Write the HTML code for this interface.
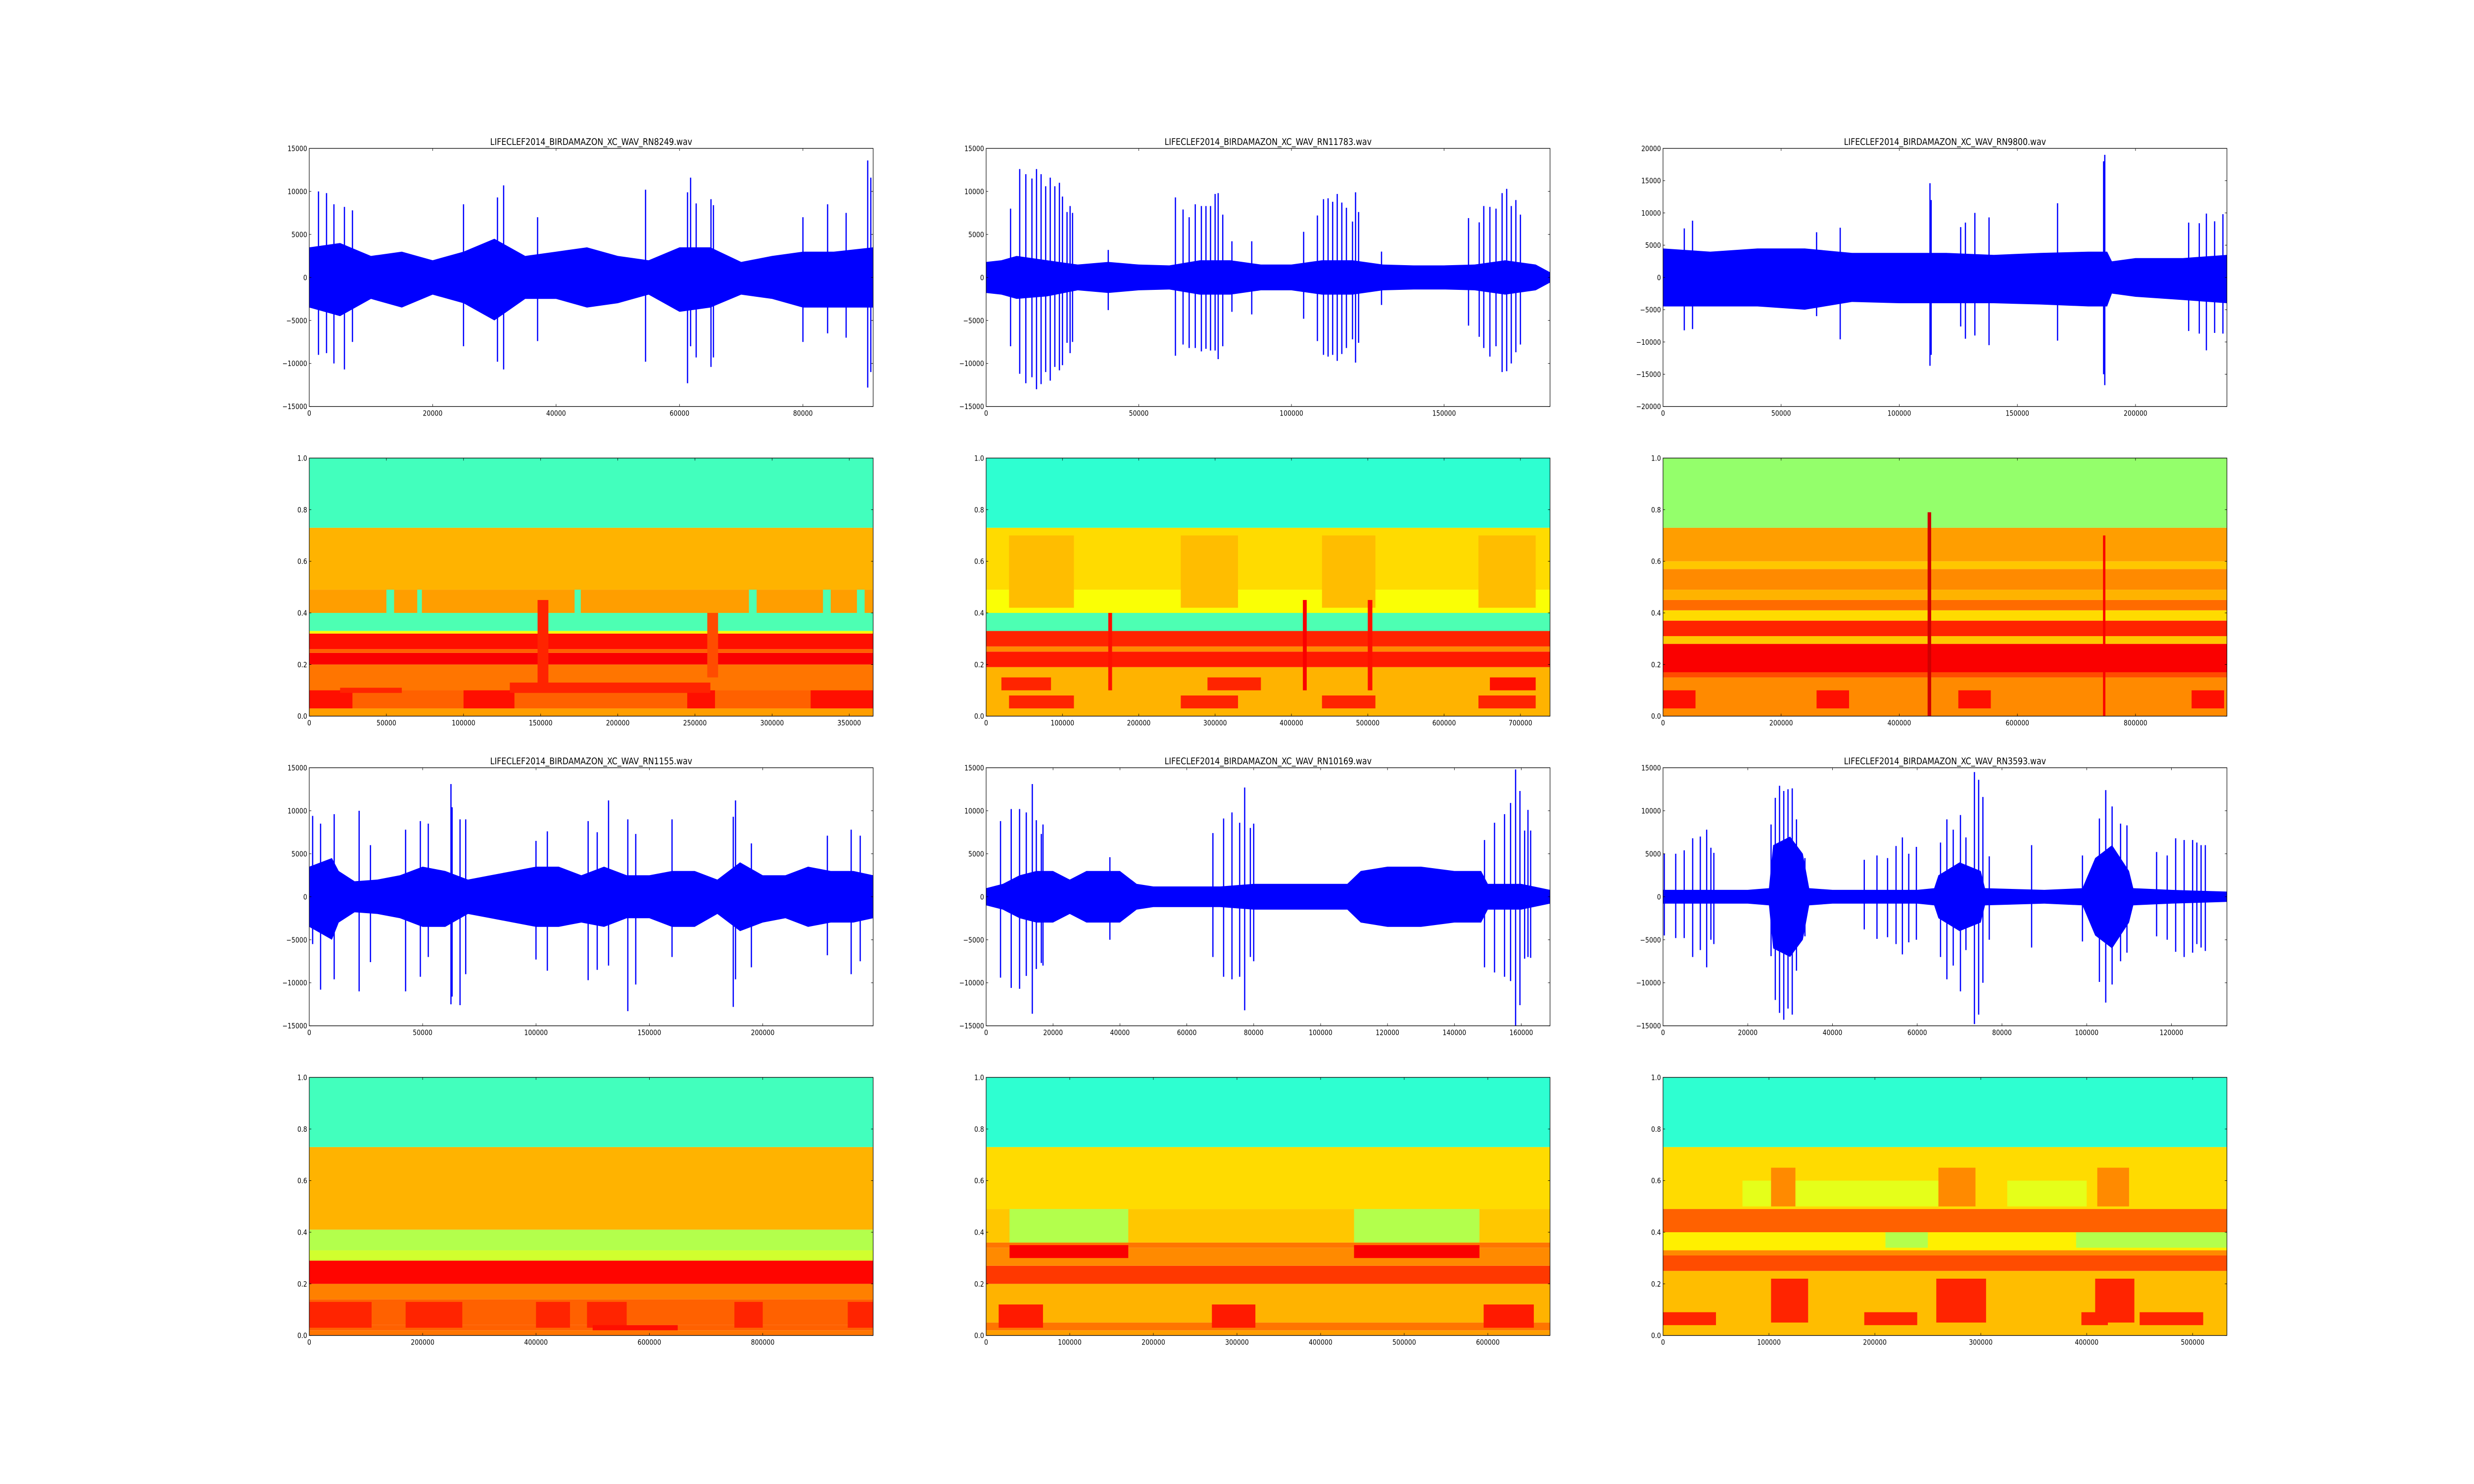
<!DOCTYPE html>
<html><head><meta charset="utf-8"><title>Bird audio waveforms and spectrograms</title>
<style>
html,body{margin:0;padding:0;background:#fff;overflow:hidden;width:100%;height:100%;}
svg{display:block;width:100vw;height:100vh;font-family:"DejaVu Sans","Liberation Sans",sans-serif;}
</style></head>
<body>
<svg id="fig" xmlns="http://www.w3.org/2000/svg" viewBox="0 0 6000 3000" preserveAspectRatio="none">
<rect x="0" y="0" width="6000" height="3000" fill="#ffffff"/>
</svg>
<script>
// ---------- data ----------
const titles = ["LIFECLEF2014_BIRDAMAZON_XC_WAV_RN8249.wav","LIFECLEF2014_BIRDAMAZON_XC_WAV_RN11783.wav","LIFECLEF2014_BIRDAMAZON_XC_WAV_RN9800.wav","LIFECLEF2014_BIRDAMAZON_XC_WAV_RN1155.wav","LIFECLEF2014_BIRDAMAZON_XC_WAV_RN10169.wav","LIFECLEF2014_BIRDAMAZON_XC_WAV_RN3593.wav"];
const waveLengths = [91380,184700,238700,248700,168600,133100];
const waveYMax = [15000,15000,20000,15000,15000,15000];
const waveXStep = [20000,50000,50000,50000,20000,20000];
const specXStep = [50000,100000,200000,200000,100000,100000];
const specYTicks = [0,0.2,0.4,0.6,0.8,1.0];

// waveform envelopes [sample, positive, negative]
const w1Env = [[0,3500,-3500],[5000,4000,-4500],[10000,2500,-2500],[15000,3000,-3500],[20000,2000,-2000],[25000,3000,-3000],[30000,4500,-5000],[35000,2500,-2500],[40000,3000,-2500],[45000,3500,-3500],[50000,2500,-3000],[55000,2000,-2000],[60000,3500,-4000],[65000,3500,-3500],[70000,1800,-2000],[75000,2500,-2500],[80000,3000,-3500],[85000,3000,-3500],[91380,3500,-3500]];
const w2Env = [[0,1800,-1800],[5000,2000,-2000],[10000,2500,-2500],[20000,2000,-2200],[30000,1500,-1500],[40000,1800,-1800],[50000,1500,-1500],[60000,1400,-1400],[70000,2000,-2000],[80000,2000,-2000],[90000,1500,-1500],[100000,1500,-1500],[110000,2000,-2000],[120000,2000,-2000],[130000,1500,-1500],[140000,1400,-1400],[150000,1400,-1400],[160000,1500,-1500],[170000,2000,-2000],[180000,1500,-1500],[184700,600,-600]];
const w3Env = [[0,4500,-4500],[20000,4000,-4500],[40000,4500,-4500],[60000,4500,-5000],[80000,3800,-3800],[100000,3800,-4000],[120000,3800,-4000],[140000,3500,-4000],[160000,3800,-4200],[180000,4000,-4500],[188000,4000,-4500],[190000,2500,-2500],[200000,3000,-3000],[220000,3000,-3500],[238700,3500,-4000]];
const w4Env = [[0,3500,-3500],[10000,4500,-5000],[13000,3000,-3000],[20000,1800,-1800],[30000,2000,-2000],[40000,2500,-2500],[50000,3500,-3500],[60000,3000,-3500],[70000,2000,-2000],[80000,2500,-2500],[90000,3000,-3000],[100000,3500,-3500],[110000,3500,-3500],[120000,2500,-3000],[130000,3500,-3500],[140000,2500,-2500],[150000,2500,-2500],[160000,3000,-3500],[170000,3000,-3500],[180000,2000,-2000],[190000,4000,-4000],[200000,2500,-3000],[210000,2500,-2500],[220000,3500,-3500],[230000,3000,-3000],[240000,3000,-3000],[248700,2500,-2500]];
const w5Env = [[0,1000,-1000],[5000,1500,-1500],[10000,2500,-2500],[15000,3000,-3000],[20000,3000,-3000],[25000,2000,-2000],[30000,3000,-3000],[35000,3000,-3000],[40000,3000,-3000],[45000,1500,-1500],[50000,1200,-1200],[60000,1200,-1200],[70000,1200,-1200],[80000,1500,-1500],[90000,1500,-1500],[100000,1500,-1500],[108000,1500,-1500],[112000,3000,-3000],[120000,3500,-3500],[130000,3500,-3500],[140000,3000,-3000],[148000,3000,-3000],[150000,1500,-1500],[160000,1500,-1500],[168600,800,-800]];
const w6Env = [[0,800,-800],[20000,800,-800],[25000,1000,-1000],[26000,6000,-6000],[30000,7000,-7000],[33000,5000,-5000],[34500,1000,-1000],[40000,800,-800],[60000,800,-800],[64000,1000,-1000],[65000,2500,-2500],[70000,4000,-4000],[75000,3000,-3000],[76000,1000,-1000],[90000,800,-800],[99000,1000,-1000],[102000,4500,-4500],[106000,6000,-6000],[110000,3000,-3000],[111000,1000,-1000],[120000,800,-800],[133100,600,-600]];

// waveform spikes [sample, top, bottom]
const w1Spikes = [[1500,10000,-9000],[2800,9800,-8800],[4000,8500,-10000],[5700,8200,-10700],[7000,7800,-7500],[25000,8500,-8000],[30500,9300,-9800],[31500,10700,-10700],[37000,7000,-7400],[54500,10200,-9800],[61300,9900,-12300],[61800,11600,-8000],[62700,8600,-9300],[65100,9100,-10400],[65500,8400,-9300],[80000,7000,-7500],[84000,8500,-6500],[87000,7500,-7000],[90500,13600,-12800],[91000,11600,-11000]];
const w2Spikes = [[8000,8000,-8000],[11000,12600,-11200],[13000,12000,-12300],[15000,11500,-11600],[16500,12600,-13000],[18000,12000,-12400],[19500,10600,-11000],[21000,11600,-12000],[22500,10600,-10400],[24000,11000,-10800],[25000,9400,-10200],[26500,7600,-7600],[27500,8300,-8800],[28300,7500,-7500],[40000,3200,-3800],[62000,9300,-9100],[64500,7900,-7800],[66500,7000,-8200],[68500,8500,-8200],[70500,8300,-8600],[72000,8300,-8300],[73500,8300,-8500],[75000,9700,-8500],[76000,9800,-9500],[77500,7300,-8000],[80500,4200,-4000],[87000,4200,-4300],[104000,5300,-4800],[108500,7200,-7400],[110500,9100,-9000],[112000,9200,-9200],[113500,8800,-9000],[115000,9700,-9700],[116500,8700,-8900],[118000,8100,-8200],[120000,6500,-7200],[121000,9900,-9900],[122000,7600,-7600],[129500,3000,-3200],[158000,6900,-5600],[161500,6400,-6900],[163000,8300,-8200],[165000,8200,-9200],[167000,8000,-8000],[169000,9800,-11000],[170500,10300,-10900],[172000,8300,-10000],[173500,9000,-8700],[175000,7300,-7800]];
const w3Spikes = [[12500,8800,-8000],[9000,7600,-8200],[65000,7000,-6000],[75000,7700,-9600],[113000,14600,-13700],[113500,12000,-12000],[126000,7800,-7600],[128000,8500,-9500],[132000,10000,-9000],[138000,9300,-10500],[167000,11500,-9800],[186500,18000,-15000],[187000,19000,-16700],[222500,8500,-8300],[227000,8400,-8700],[230000,9900,-11300],[233500,8700,-8600],[237000,9800,-8700]];
const w4Spikes = [[1500,9400,-5500],[5000,8500,-10800],[11000,9600,-9600],[22000,10000,-11000],[27000,6000,-7600],[42500,7800,-11000],[49000,8800,-9300],[52500,8500,-7000],[62500,13100,-12500],[63000,10400,-11600],[66500,9000,-12600],[69000,9000,-9000],[100000,6500,-7300],[105000,7600,-8600],[123000,8800,-9700],[127000,7500,-8500],[132000,11200,-8000],[140500,9000,-13300],[144000,7300,-10200],[160000,9000,-7000],[187000,9300,-12800],[188000,11200,-9600],[195000,6200,-8200],[228500,7100,-6800],[239000,7800,-9000],[243000,7100,-7500]];
const w5Spikes = [[4300,8800,-9400],[7500,10200,-10600],[10000,10200,-10700],[12000,9800,-9200],[13800,13100,-13600],[15000,8900,-8400],[16500,7300,-7700],[17000,8400,-8000],[37000,4600,-5000],[67800,7400,-7000],[71000,9100,-9300],[73500,9800,-9600],[75800,8600,-9300],[77300,12700,-13200],[79000,8000,-7000],[80000,8500,-7500],[149000,6600,-8200],[152000,8600,-8800],[155000,9600,-9300],[156800,10900,-9800],[158300,14800,-15000],[159600,12300,-12600],[161000,7700,-7200],[162000,10100,-7000],[162800,7700,-7100]];
const w6Spikes = [[300,5000,-4500],[3000,5000,-4800],[5000,5400,-4800],[7000,6800,-7000],[8800,7000,-6200],[10300,7800,-8200],[11300,5700,-5000],[12000,5100,-5500],[25500,8400,-6900],[26500,11500,-12000],[27500,12900,-13500],[28500,12300,-14300],[29500,12500,-13000],[30500,12600,-13700],[31500,9000,-8600],[33500,4500,-4600],[47500,4300,-3800],[50500,4800,-4900],[53000,4500,-4700],[55000,5900,-5500],[56500,6900,-6700],[58000,5000,-5300],[59800,5800,-5000],[65500,6300,-7000],[67000,9000,-9600],[68500,7800,-8000],[70200,9500,-11000],[71500,6900,-6200],[73500,14500,-14800],[74500,13600,-13700],[75500,11600,-10000],[77000,4700,-5000],[87000,6000,-5900],[99000,4800,-5200],[103000,9100,-9900],[104500,12400,-12300],[106000,10500,-10200],[108000,8500,-7500],[109500,8300,-6500],[116500,5200,-4600],[119000,4800,-5000],[121000,6800,-6400],[123000,6600,-7000],[125000,6600,-6500],[126000,6300,-5500],[127000,6000,-5900],[128000,6000,-6300]];

// spectrogram frequency bands: edges (0..1) and jet levels (0..1)
const s1Edges = [0,0.03,0.10,0.20,0.245,0.26,0.32,0.33,0.40,0.49,0.73,1.0];
const s1Levels = [0.72,0.78,0.76,0.88,0.78,0.86,0.62,0.45,0.72,0.70,0.44];
const s2Edges = [0,0.19,0.25,0.27,0.33,0.40,0.49,0.73,1.0];
const s2Levels = [0.70,0.85,0.74,0.84,0.45,0.62,0.66,0.42];
const s3Edges = [0,0.15,0.17,0.28,0.31,0.37,0.41,0.45,0.49,0.57,0.60,0.73,1.0];
const s3Levels = [0.74,0.80,0.88,0.68,0.84,0.66,0.77,0.70,0.74,0.68,0.72,0.52];
const s4Edges = [0,0.02,0.04,0.14,0.20,0.29,0.33,0.41,0.73,1.0];
const s4Levels = [0.76,0.78,0.78,0.75,0.87,0.58,0.55,0.70,0.44];
const s5Edges = [0,0.02,0.05,0.20,0.27,0.34,0.36,0.49,0.73,1.0];
const s5Levels = [0.72,0.76,0.70,0.82,0.74,0.76,0.68,0.66,0.42];
const s6Edges = [0,0.25,0.31,0.33,0.40,0.49,0.73,1.0];
const s6Levels = [0.69,0.80,0.74,0.64,0.78,0.66,0.42];

// spectrogram events [t0, t1, f0, f1, level]
const s1Events = [[0,28000,0.03,0.10,0.86],[100000,133000,0.03,0.10,0.86],[245000,263000,0.03,0.10,0.86],[325000,365520,0.03,0.10,0.86],[148000,155000,0.10,0.45,0.84],[130000,260000,0.09,0.13,0.84],[258000,265000,0.15,0.40,0.80],[50000,55000,0.40,0.49,0.45],[70000,73000,0.40,0.49,0.45],[172000,176000,0.40,0.49,0.45],[285000,290000,0.40,0.49,0.45],[333000,338000,0.40,0.49,0.45],[355000,360000,0.40,0.49,0.45],[20000,60000,0.09,0.11,0.84]];
const s2Events = [[30000,115000,0.03,0.08,0.84],[255000,330000,0.03,0.08,0.84],[440000,510000,0.03,0.08,0.84],[645000,720000,0.03,0.08,0.84],[20000,85000,0.10,0.15,0.84],[290000,360000,0.10,0.15,0.84],[660000,720000,0.10,0.15,0.86],[30000,115000,0.42,0.70,0.69],[255000,330000,0.42,0.70,0.69],[440000,510000,0.42,0.70,0.69],[645000,720000,0.42,0.70,0.69],[160000,165000,0.10,0.40,0.86],[415000,420000,0.10,0.45,0.88],[500000,506000,0.10,0.45,0.86]];
const s3Events = [[0,55000,0.03,0.10,0.86],[260000,315000,0.03,0.10,0.86],[500000,555000,0.03,0.10,0.86],[895000,950000,0.03,0.10,0.86],[448000,454000,0.0,0.79,0.92],[745000,749000,0.0,0.70,0.88]];
const s4Events = [[0,110000,0.03,0.13,0.84],[170000,270000,0.03,0.13,0.84],[400000,460000,0.03,0.13,0.84],[490000,560000,0.03,0.13,0.84],[750000,800000,0.03,0.13,0.84],[950000,994800,0.03,0.13,0.84],[500000,650000,0.02,0.04,0.86]];
const s5Events = [[28000,170000,0.36,0.49,0.55],[440000,590000,0.36,0.49,0.55],[28000,170000,0.30,0.35,0.88],[440000,590000,0.30,0.35,0.88],[15000,68000,0.03,0.12,0.85],[270000,322000,0.03,0.12,0.85],[595000,655000,0.03,0.12,0.85]];
const s6Events = [[75000,260000,0.50,0.60,0.60],[325000,400000,0.50,0.60,0.60],[210000,250000,0.34,0.40,0.55],[390000,532400,0.34,0.40,0.55],[102000,137000,0.05,0.22,0.84],[258000,305000,0.05,0.22,0.84],[408000,445000,0.05,0.22,0.84],[102000,125000,0.50,0.65,0.74],[260000,295000,0.50,0.65,0.74],[410000,440000,0.50,0.65,0.74],[0,50000,0.04,0.09,0.84],[190000,240000,0.04,0.09,0.84],[395000,420000,0.04,0.09,0.84],[450000,510000,0.04,0.09,0.84]];

// ---------- rendering ----------
const envs = [w1Env,w2Env,w3Env,w4Env,w5Env,w6Env];
const spikes = [w1Spikes,w2Spikes,w3Spikes,w4Spikes,w5Spikes,w6Spikes];
const edges = [s1Edges,s2Edges,s3Edges,s4Edges,s5Edges,s6Edges];
const levels = [s1Levels,s2Levels,s3Levels,s4Levels,s5Levels,s6Levels];
const events = [s1Events,s2Events,s3Events,s4Events,s5Events,s6Events];

const NS = "http://www.w3.org/2000/svg";
const svg = document.getElementById("fig");
const colLeft = [750, 2391.6, 4033.2];
const rowTop = [300, 926, 1552, 2178];
const AW = 1367.6, AH = 521.7;

function mk(tag, attrs, parent) {
  const e = document.createElementNS(NS, tag);
  for (const k in attrs) e.setAttribute(k, attrs[k]);
  parent.appendChild(e);
  return e;
}
function jet(v) {
  const c = x => Math.max(0, Math.min(1, x));
  const r = c(1.5 - Math.abs(4*v - 3)), g = c(1.5 - Math.abs(4*v - 2)), b = c(1.5 - Math.abs(4*v - 1));
  return "rgb(" + Math.round(r*255) + "," + Math.round(g*255) + "," + Math.round(b*255) + ")";
}
function fmt(v) { return v < 0 ? "\u2212" + Math.abs(v) : String(v); }

function axesFrame(g, x0, y0, xTicks, xLabels, xScale, yTicks, yLabels, yScale, name) {
  const tg = mk("g", {}, g);
  
  
  xTicks.forEach((t, i) => {
    const px = xScale(t);
    mk("line", {x1:px, y1:y0+AH, x2:px, y2:y0+AH-5, stroke:"#000", "stroke-width":1}, tg);
    mk("line", {x1:px, y1:y0, x2:px, y2:y0+5, stroke:"#000", "stroke-width":1}, tg);
    const tx = mk("text", {x:px, y:y0+AH+19, "font-size":15, "text-anchor":"middle", fill:"#000"}, tg);
    
    
    tx.textContent = xLabels[i];
  });
  yTicks.forEach((t, i) => {
    const py = yScale(t);
    mk("line", {x1:x0, y1:py, x2:x0+5, y2:py, stroke:"#000", "stroke-width":1}, tg);
    mk("line", {x1:x0+AW, y1:py, x2:x0+AW-5, y2:py, stroke:"#000", "stroke-width":1}, tg);
    const tx = mk("text", {x:x0-5, y:py+5.5, "font-size":15, "text-anchor":"end", fill:"#000"}, tg);
    
    
    tx.textContent = yLabels[i];
  });
  const fr = mk("rect", {x:x0, y:y0, width:AW, height:AH, fill:"none", stroke:"#000", "stroke-width":1.3}, g);
  
  
}

for (let p = 0; p < 6; p++) {
  const col = p % 3, wrow = p < 3 ? 0 : 2;
  const x0 = colLeft[col];
  // ---- waveform ----
  const y0 = rowTop[wrow];
  const len = waveLengths[p], ym = waveYMax[p];
  const xs = v => x0 + v / len * AW;
  const ys = v => y0 + (ym - v) / (2*ym) * AH;
  const g = mk("g", {}, svg);
  
  
  const clipId = "wc" + p;
  const cp = mk("clipPath", {id:clipId}, g);
  mk("rect", {x:x0, y:y0, width:AW, height:AH}, cp);
  const plot = mk("g", {"clip-path":"url(#" + clipId + ")"}, g);
  const env = envs[p];
  let pts = env.map(d => xs(d[0]).toFixed(1) + "," + ys(d[1]).toFixed(1));
  pts = pts.concat(env.slice().reverse().map(d => xs(d[0]).toFixed(1) + "," + ys(d[2]).toFixed(1)));
  const poly = mk("polygon", {points:pts.join(" "), fill:"#0000ff"}, plot);
  
  
  spikes[p].forEach(s => {
    const ln = mk("line", {x1:xs(s[0]), x2:xs(s[0]), y1:ys(s[1]), y2:ys(s[2]), stroke:"#0000ff", "stroke-width":3}, plot);
    
    
  });
  const xt = [], xl = [];
  for (let v = 0; v <= len; v += waveXStep[p]) { xt.push(v); xl.push(String(v)); }
  const yt = [], yl = [];
  for (let v = -ym; v <= ym; v += 5000) { yt.push(v); yl.push(fmt(v)); }
  axesFrame(g, x0, y0, xt, xl, xs, yt, yl, ys, 'waveform-' + (p+1));
  const title = mk("text", {x:x0 + AW/2, y:y0 - 7, "font-size":19, "text-anchor":"middle", fill:"#000"}, g);
  
  
  title.textContent = titles[p];

  // ---- spectrogram ----
  const sy0 = rowTop[wrow + 1];
  const slen = len * 4;
  const sxs = v => x0 + v / slen * AW;
  const sys = v => sy0 + (1 - v) * AH;
  const sg = mk("g", {}, svg);
  
  
  const sclipId = "sc" + p;
  const scp = mk("clipPath", {id:sclipId}, sg);
  mk("rect", {x:x0, y:sy0, width:AW, height:AH}, scp);
  const splot = mk("g", {"clip-path":"url(#" + sclipId + ")"}, sg);
  const ed = edges[p], lv = levels[p];
  for (let i = 0; i < lv.length; i++) {
    const r = mk("rect", {x:x0, y:sys(ed[i+1]), width:AW, height:sys(ed[i]) - sys(ed[i+1]), fill:jet(lv[i])}, splot);
    
    
  }
  events[p].forEach(e => {
    const r = mk("rect", {x:sxs(e[0]), y:sys(e[3]), width:sxs(e[1]) - sxs(e[0]), height:sys(e[2]) - sys(e[3]), fill:jet(e[4])}, splot);
    
    
  });
  const sxt = [], sxl = [];
  for (let v = 0; v <= slen; v += specXStep[p]) { sxt.push(v); sxl.push(String(v)); }
  axesFrame(sg, x0, sy0, sxt, sxl, sxs, specYTicks, specYTicks.map(v => v.toFixed(1)), sys, 'spectrogram-' + (p+1));
}
</script>
</body></html>
